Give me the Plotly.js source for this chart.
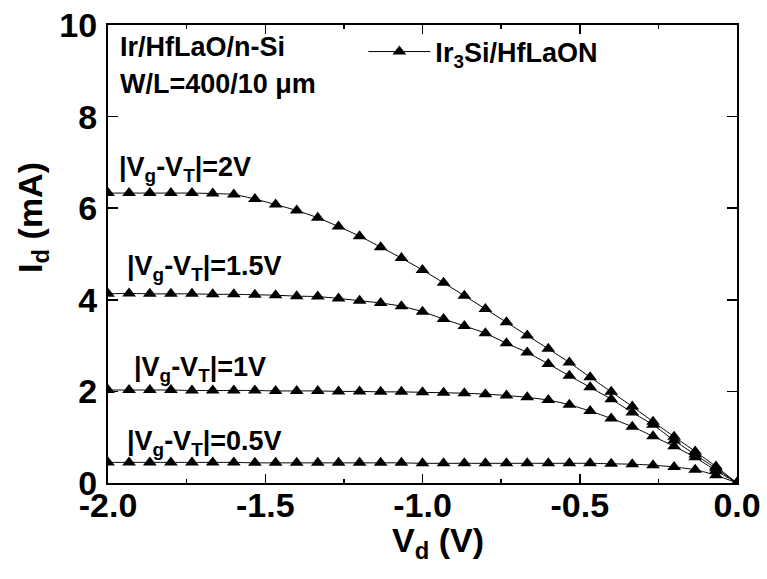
<!DOCTYPE html>
<html>
<head>
<meta charset="utf-8">
<script src="https://cdn.plot.ly/plotly-3.0.1.min.js"></script>
<style>
  html, body { margin: 0; padding: 0; background: #ffffff; }
  #chart { width: 767px; height: 579px; }
</style>
</head>
<body>
<div id="chart"></div>
<script>
// Drain voltage sweep (V), 31 points from -2.0 V to 0 V
const vd = [-2.000, -1.933, -1.867, -1.800, -1.733, -1.667, -1.600, -1.533, -1.467, -1.400,
            -1.333, -1.267, -1.200, -1.133, -1.067, -1.000, -0.933, -0.867, -0.800, -0.733,
            -0.667, -0.600, -0.533, -0.467, -0.400, -0.333, -0.267, -0.200, -0.133, -0.067, 0.000];

// Drain current (mA) for each gate overdrive |Vg-VT|
const id_2v   = [6.33, 6.33, 6.33, 6.33, 6.33, 6.32, 6.30, 6.20, 6.08, 5.95,
                 5.79, 5.60, 5.39, 5.15, 4.91, 4.65, 4.37, 4.09, 3.80, 3.51,
                 3.22, 2.93, 2.63, 2.31, 1.99, 1.67, 1.34, 1.01, 0.69, 0.36, 0.00];
const id_1p5v = [4.13, 4.14, 4.13, 4.13, 4.13, 4.12, 4.12, 4.11, 4.10, 4.08,
                 4.07, 4.03, 3.98, 3.93, 3.86, 3.74, 3.58, 3.43, 3.27, 3.05,
                 2.85, 2.60, 2.34, 2.09, 1.83, 1.54, 1.27, 0.93, 0.62, 0.32, 0.00];
const id_1v   = [2.03, 2.03, 2.03, 2.03, 2.02, 2.02, 2.02, 2.02, 2.01, 2.01,
                 2.01, 2.00, 2.00, 1.99, 1.99, 1.98, 1.97, 1.96, 1.94, 1.91,
                 1.87, 1.81, 1.71, 1.57, 1.41, 1.23, 1.02, 0.80, 0.56, 0.27, 0.00];
const id_0p5v = [0.45, 0.45, 0.45, 0.45, 0.45, 0.45, 0.45, 0.44, 0.44, 0.44,
                 0.44, 0.44, 0.44, 0.44, 0.44, 0.43, 0.43, 0.43, 0.43, 0.43,
                 0.43, 0.43, 0.43, 0.43, 0.42, 0.41, 0.39, 0.35, 0.29, 0.17, 0.00];

const seriesNames = ["Ir<sub>3</sub>Si/HfLaON", "1.5V", "1V", "0.5V"];
const seriesData = [id_2v, id_1p5v, id_1v, id_0p5v];

// Tick positions and labels (plain hyphen minus)
const xTickVals = [-2.0, -1.5, -1.0, -0.5, 0.0];
const xTickText = ["-2.0", "-1.5", "-1.0", "-0.5", "0.0"];
const yTickVals = [0, 2, 4, 6, 8, 10];
const yTickText = ["0", "2", "4", "6", "8", "10"];

// Curve labels and their anchor positions (V, mA)
const curveLabels = ["|V<sub>g</sub>-V<sub>T</sub>|=2V", "|V<sub>g</sub>-V<sub>T</sub>|=1.5V",
                     "|V<sub>g</sub>-V<sub>T</sub>|=1V", "|V<sub>g</sub>-V<sub>T</sub>|=0.5V"];
const labelX = [-1.971, -1.946, -1.924, -1.946];
const labelY = [6.85, 4.70, 2.50, 0.88];

const FONT = "Liberation Sans, Arial, Helvetica, sans-serif";

const traces = seriesData.map((ys, k) => ({
  type: "scatter",
  mode: "lines+markers",
  x: vd,
  y: ys,
  name: seriesNames[k],
  showlegend: k === 0,
  line: { color: "#000000", width: 1, shape: "spline", smoothing: 0.6 },
  marker: { symbol: "triangle-up", size: 12, color: "#000000" }
}));

const annotations = curveLabels.map((t, k) => ({
  text: t, x: labelX[k], y: labelY[k], xref: "x", yref: "y",
  xanchor: "left", yanchor: "middle", showarrow: false,
  font: { family: FONT, size: 27, color: "#000000", weight: "bold" }
}));

annotations.push(
  { text: "Ir/HfLaO/n-Si", xref: "paper", yref: "paper", x: 0.016, y: 0.953,
    xanchor: "left", yanchor: "middle", showarrow: false,
    font: { family: FONT, size: 27, color: "#000000", weight: "bold" } },
  { text: "W/L=400/10 \u03bcm", xref: "paper", yref: "paper", x: 0.016, y: 0.872,
    xanchor: "left", yanchor: "middle", showarrow: false,
    font: { family: FONT, size: 27, color: "#000000", weight: "bold" } },
  { text: "V<sub>d</sub> (V)", xref: "paper", yref: "paper", x: 0.525, y: -0.13,
    xanchor: "center", yanchor: "middle", showarrow: false,
    font: { family: FONT, size: 34, color: "#000000", weight: "bold" } },
  { text: "I<sub>d</sub> (mA)", xref: "paper", yref: "paper", x: -0.12, y: 0.58,
    xanchor: "center", yanchor: "middle", textangle: -90, showarrow: false,
    font: { family: FONT, size: 34, color: "#000000", weight: "bold" } }
);

const layout = {
  width: 767,
  height: 579,
  margin: { l: 108, r: 30, t: 25, b: 96, pad: 0 },
  paper_bgcolor: "#ffffff",
  plot_bgcolor: "#ffffff",
  font: { family: FONT, color: "#000000" },
  showlegend: true,
  legend: {
    x: 0.406, y: 0.941, xanchor: "left", yanchor: "middle",
    itemwidth: 62,
    bgcolor: "rgba(0,0,0,0)", borderwidth: 0,
    font: { family: FONT, size: 27, color: "#000000", weight: "bold" }
  },
  xaxis: {
    range: [-2.0, 0.0],
    tickmode: "array", tickvals: xTickVals, ticktext: xTickText,
    ticks: "inside", ticklen: 9, tickwidth: 1.5, tickcolor: "#000000",
    ticklabelstandoff: -9,
    minor: { tickmode: "linear", tick0: 0, dtick: 0.25, ticks: "inside", ticklen: 4, tickwidth: 1.5, tickcolor: "#000000" },
    showline: true, linewidth: 2, linecolor: "#000000", mirror: "ticks",
    showgrid: false, zeroline: false,
    tickfont: { family: FONT, size: 34, color: "#000000", weight: "bold" }
  },
  yaxis: {
    range: [0, 10],
    tickmode: "array", tickvals: yTickVals, ticktext: yTickText,
    ticks: "inside", ticklen: 10, tickwidth: 1.5, tickcolor: "#000000",
    ticklabelstandoff: 2,
    showline: true, linewidth: 2, linecolor: "#000000", mirror: "ticks",
    showgrid: false, zeroline: false,
    tickfont: { family: FONT, size: 34, color: "#000000", weight: "bold" }
  },
  annotations: annotations
};

Plotly.newPlot("chart", traces, layout, { displayModeBar: false, staticPlot: true });
</script>
</body>
</html>
